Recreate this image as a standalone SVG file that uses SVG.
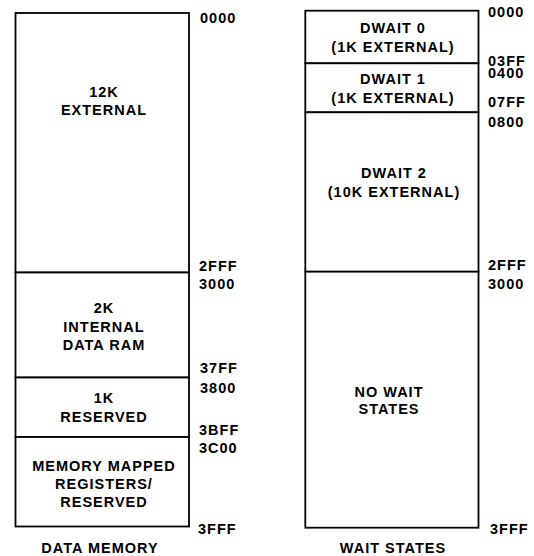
<svg xmlns="http://www.w3.org/2000/svg" width="534" height="556" viewBox="0 0 534 556">
<style>
.r{fill:#fff;stroke:#000;stroke-width:1.8}
text{font-family:"Liberation Sans",Arial,sans-serif;font-weight:bold;font-size:14.5px;letter-spacing:1px;fill:#000}
.c{text-anchor:middle}
</style>
<rect width="534" height="556" fill="#fff"/>
<g id="data-memory">
<g id="dm-12k"><rect class="r" x="15.5" y="13" width="173.5" height="259.5"/><text class="c" x="104" y="97.3">12K</text><text class="c" x="104" y="115">EXTERNAL</text></g>
<g id="dm-2k"><rect class="r" x="15.5" y="272.5" width="173.5" height="105"/><text class="c" x="104" y="313.3">2K</text><text class="c" x="104" y="331.7">INTERNAL</text><text class="c" x="104" y="350">DATA RAM</text></g>
<g id="dm-1k"><rect class="r" x="15.5" y="377.5" width="173.5" height="59.5"/><text class="c" x="104" y="402.7">1K</text><text class="c" x="104" y="421.7">RESERVED</text></g>
<g id="dm-mmr"><rect class="r" x="15.5" y="437" width="173.5" height="89.5"/><text class="c" x="104" y="470.7">MEMORY MAPPED</text><text class="c" x="104" y="489">REGISTERS/</text><text class="c" x="104" y="507.3">RESERVED</text></g>
<g id="dm-addr">
<text x="200" y="22.7">0000</text><text x="199" y="270.5">2FFF</text><text x="199" y="289">3000</text><text x="200" y="373.3">37FF</text><text x="200" y="393.3">3800</text><text x="199" y="435">3BFF</text><text x="199" y="453.3">3C00</text><text x="198" y="534">3FFF</text>
</g>
<text id="dm-title" class="c" x="100" y="552.7">DATA MEMORY</text>
</g>
<g id="wait-states">
<g id="ws-dwait0"><rect class="r" x="305.3" y="10.7" width="173.2" height="52.6"/><text class="c" x="393" y="33.3">DWAIT 0</text><text class="c" x="393" y="51.7">(1K EXTERNAL)</text></g>
<g id="ws-dwait1"><rect class="r" x="305.3" y="63.3" width="173.2" height="49"/><text class="c" x="393" y="84.3">DWAIT 1</text><text class="c" x="393" y="102.7">(1K EXTERNAL)</text></g>
<g id="ws-dwait2"><rect class="r" x="305.3" y="112.3" width="173.2" height="159.4"/><text class="c" x="394" y="178.3">DWAIT 2</text><text class="c" x="394" y="197.3">(10K EXTERNAL)</text></g>
<g id="ws-nowait"><rect class="r" x="305.3" y="271.7" width="173.2" height="256"/><text class="c" x="389" y="396.7">NO WAIT</text><text class="c" x="389" y="414.3">STATES</text></g>
<g id="ws-addr">
<text x="488" y="16.7">0000</text><text x="488" y="65.7">03FF</text><text x="488" y="77.7">0400</text><text x="488" y="106.7">07FF</text><text x="488" y="126.7">0800</text><text x="488" y="270">2FFF</text><text x="488" y="289.3">3000</text><text x="490" y="534">3FFF</text>
</g>
<text id="ws-title" class="c" x="393" y="552.7">WAIT STATES</text>
</g>
<g id="connectors"/>
</svg>
